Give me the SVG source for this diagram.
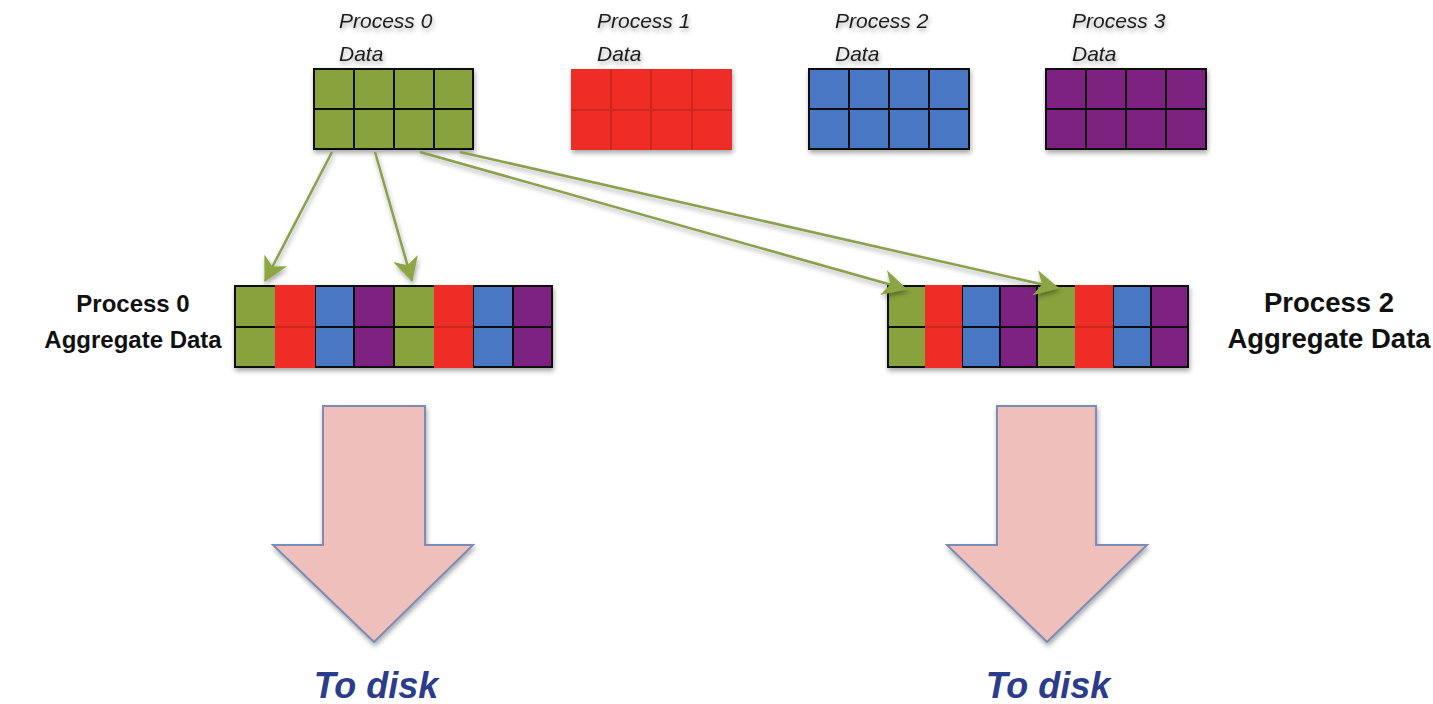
<svg xmlns="http://www.w3.org/2000/svg" width="1433" height="704" viewBox="0 0 1433 704">
  <defs>
    <style>
      .lbl { font-family: "Liberation Sans", Arial, sans-serif; font-style: italic; font-size: 21px; fill: #1e1e1e; }
      .agg { font-family: "Liberation Sans", Arial, sans-serif; font-weight: bold; fill: #111; text-anchor: middle; }
      .disk { font-family: "Liberation Sans", Arial, sans-serif; font-weight: bold; font-style: italic; font-size: 36px; fill: #2b3c8a; text-anchor: middle; }
      .g { fill: #88a33e; }
      .r { fill: #ee2d25; }
      .b { fill: #4a77c4; }
      .p { fill: #7d2280; }
      .grid { fill: none; stroke: #111; stroke-width: 2; }
      .redline { stroke: #b8231c; stroke-width: 2; opacity: 0.6; }
      .conn { stroke: #8b9f4e; stroke-width: 2.5; fill: none; }
      .bigarrow { fill: #efbfbc; stroke: #7b8cb4; stroke-width: 2; }
    </style>
    <filter id="shadow" x="-10%" y="-10%" width="130%" height="130%">
      <feGaussianBlur in="SourceAlpha" stdDeviation="2.5"/>
      <feOffset dx="1" dy="3" result="blur"/>
      <feComponentTransfer><feFuncA type="linear" slope="0.35"/></feComponentTransfer>
      <feMerge><feMergeNode/><feMergeNode in="SourceGraphic"/></feMerge>
    </filter>
    <marker id="head" viewBox="0 0 24 24" refX="22" refY="12" markerWidth="28" markerHeight="28" markerUnits="userSpaceOnUse" orient="auto">
      <path d="M2,1 L23,12 L2,23 L8,12 z" fill="#8ca545"/>
    </marker>
  </defs>

  <!-- source blocks -->
  <g id="proc0-data" filter="url(#shadow)">
    <rect class="g" x="314" y="69" width="159" height="80"/>
    <path class="grid" d="M314,69 H473 V149 H314 Z M314,109 H473 M354,69 V149 M394,69 V149 M434,69 V149"/>
    <text class="lbl" x="339" y="28">Process 0</text>
    <text class="lbl" x="339" y="61">Data</text>
  </g>

  <g id="proc1-data" filter="url(#shadow)">
    <rect class="r" x="571" y="69" width="161" height="81"/>
    <path class="redline" d="M571,110 H732 M611,69 V150 M651,69 V150 M692,69 V150"/>
    <text class="lbl" x="597" y="28">Process 1</text>
    <text class="lbl" x="597" y="61">Data</text>
  </g>

  <g id="proc2-data" filter="url(#shadow)">
    <rect class="b" x="809" y="69" width="160" height="80"/>
    <path class="grid" d="M809,69 H969 V149 H809 Z M809,109 H969 M849,69 V149 M889,69 V149 M929,69 V149"/>
    <text class="lbl" x="835" y="28">Process 2</text>
    <text class="lbl" x="835" y="61">Data</text>
  </g>

  <g id="proc3-data" filter="url(#shadow)">
    <rect class="p" x="1046" y="69" width="160" height="80"/>
    <path class="grid" d="M1046,69 H1206 V149 H1046 Z M1046,109 H1206 M1086,69 V149 M1126,69 V149 M1166,69 V149"/>
    <text class="lbl" x="1072" y="28">Process 3</text>
    <text class="lbl" x="1072" y="61">Data</text>
  </g>

  <!-- aggregation buffers -->
  <g id="proc0-aggregate">
    <g filter="url(#shadow)">
      <rect class="g" x="235" y="286" width="40" height="81"/>
      <rect class="b" x="315" y="286" width="39" height="81"/>
      <rect class="p" x="354" y="286" width="40" height="81"/>
      <rect class="g" x="394" y="286" width="40" height="81"/>
      <rect class="b" x="473" y="286" width="40" height="81"/>
      <rect class="p" x="513" y="286" width="39" height="81"/>
      <path class="grid" d="M235,286 H552 V367 H235 Z M235,327 H275 M315,327 H434 M473,327 H552 M315,286 V367 M354,286 V367 M394,286 V367 M473,286 V367 M513,286 V367"/>
      <rect class="r" x="275" y="285" width="40" height="83"/>
      <rect class="r" x="434" y="285" width="39" height="83"/>
      <path class="redline" d="M275,327 H315 M434,327 H473"/>
    </g>
    <text class="agg" x="133" y="312" font-size="24">Process 0</text>
    <text class="agg" x="133" y="348" font-size="24">Aggregate Data</text>
  </g>

  <g id="proc2-aggregate">
    <g filter="url(#shadow)">
      <rect class="g" x="888" y="286" width="37" height="81"/>
      <rect class="b" x="962" y="286" width="38" height="81"/>
      <rect class="p" x="1000" y="286" width="37" height="81"/>
      <rect class="g" x="1037" y="286" width="38" height="81"/>
      <rect class="b" x="1113" y="286" width="38" height="81"/>
      <rect class="p" x="1151" y="286" width="37" height="81"/>
      <path class="grid" d="M888,286 H1188 V367 H888 Z M888,327 H925 M962,327 H1075 M1113,327 H1188 M962,286 V367 M1000,286 V367 M1037,286 V367 M1113,286 V367 M1151,286 V367"/>
      <rect class="r" x="925" y="285" width="37" height="83"/>
      <rect class="r" x="1075" y="285" width="38" height="83"/>
      <path class="redline" d="M925,327 H962 M1075,327 H1113"/>
    </g>
    <text class="agg" x="1329" y="312" font-size="27.5">Process 2</text>
    <text class="agg" x="1329" y="348" font-size="27.5">Aggregate Data</text>
  </g>

  <!-- process 0 data scattered to the aggregators -->
  <g id="connectors" filter="url(#shadow)">
    <line class="conn" x1="332" y1="152" x2="265" y2="281" marker-end="url(#head)"/>
    <line class="conn" x1="375" y1="152" x2="412" y2="281" marker-end="url(#head)"/>
    <line class="conn" x1="420" y1="152" x2="906" y2="289" marker-end="url(#head)"/>
    <line class="conn" x1="460" y1="152" x2="1058" y2="288" marker-end="url(#head)"/>
  </g>

  <!-- writes to storage -->
  <g id="disk-left">
    <polygon class="bigarrow" filter="url(#shadow)" points="323,406 425,406 425,545 473,545 374,642 273,545 323,545"/>
    <text class="disk" x="376" y="698">To disk</text>
  </g>
  <g id="disk-right">
    <polygon class="bigarrow" filter="url(#shadow)" points="997,406 1096,406 1096,545 1147,545 1047,642 947,545 997,545"/>
    <text class="disk" x="1048" y="698">To disk</text>
  </g>
</svg>
